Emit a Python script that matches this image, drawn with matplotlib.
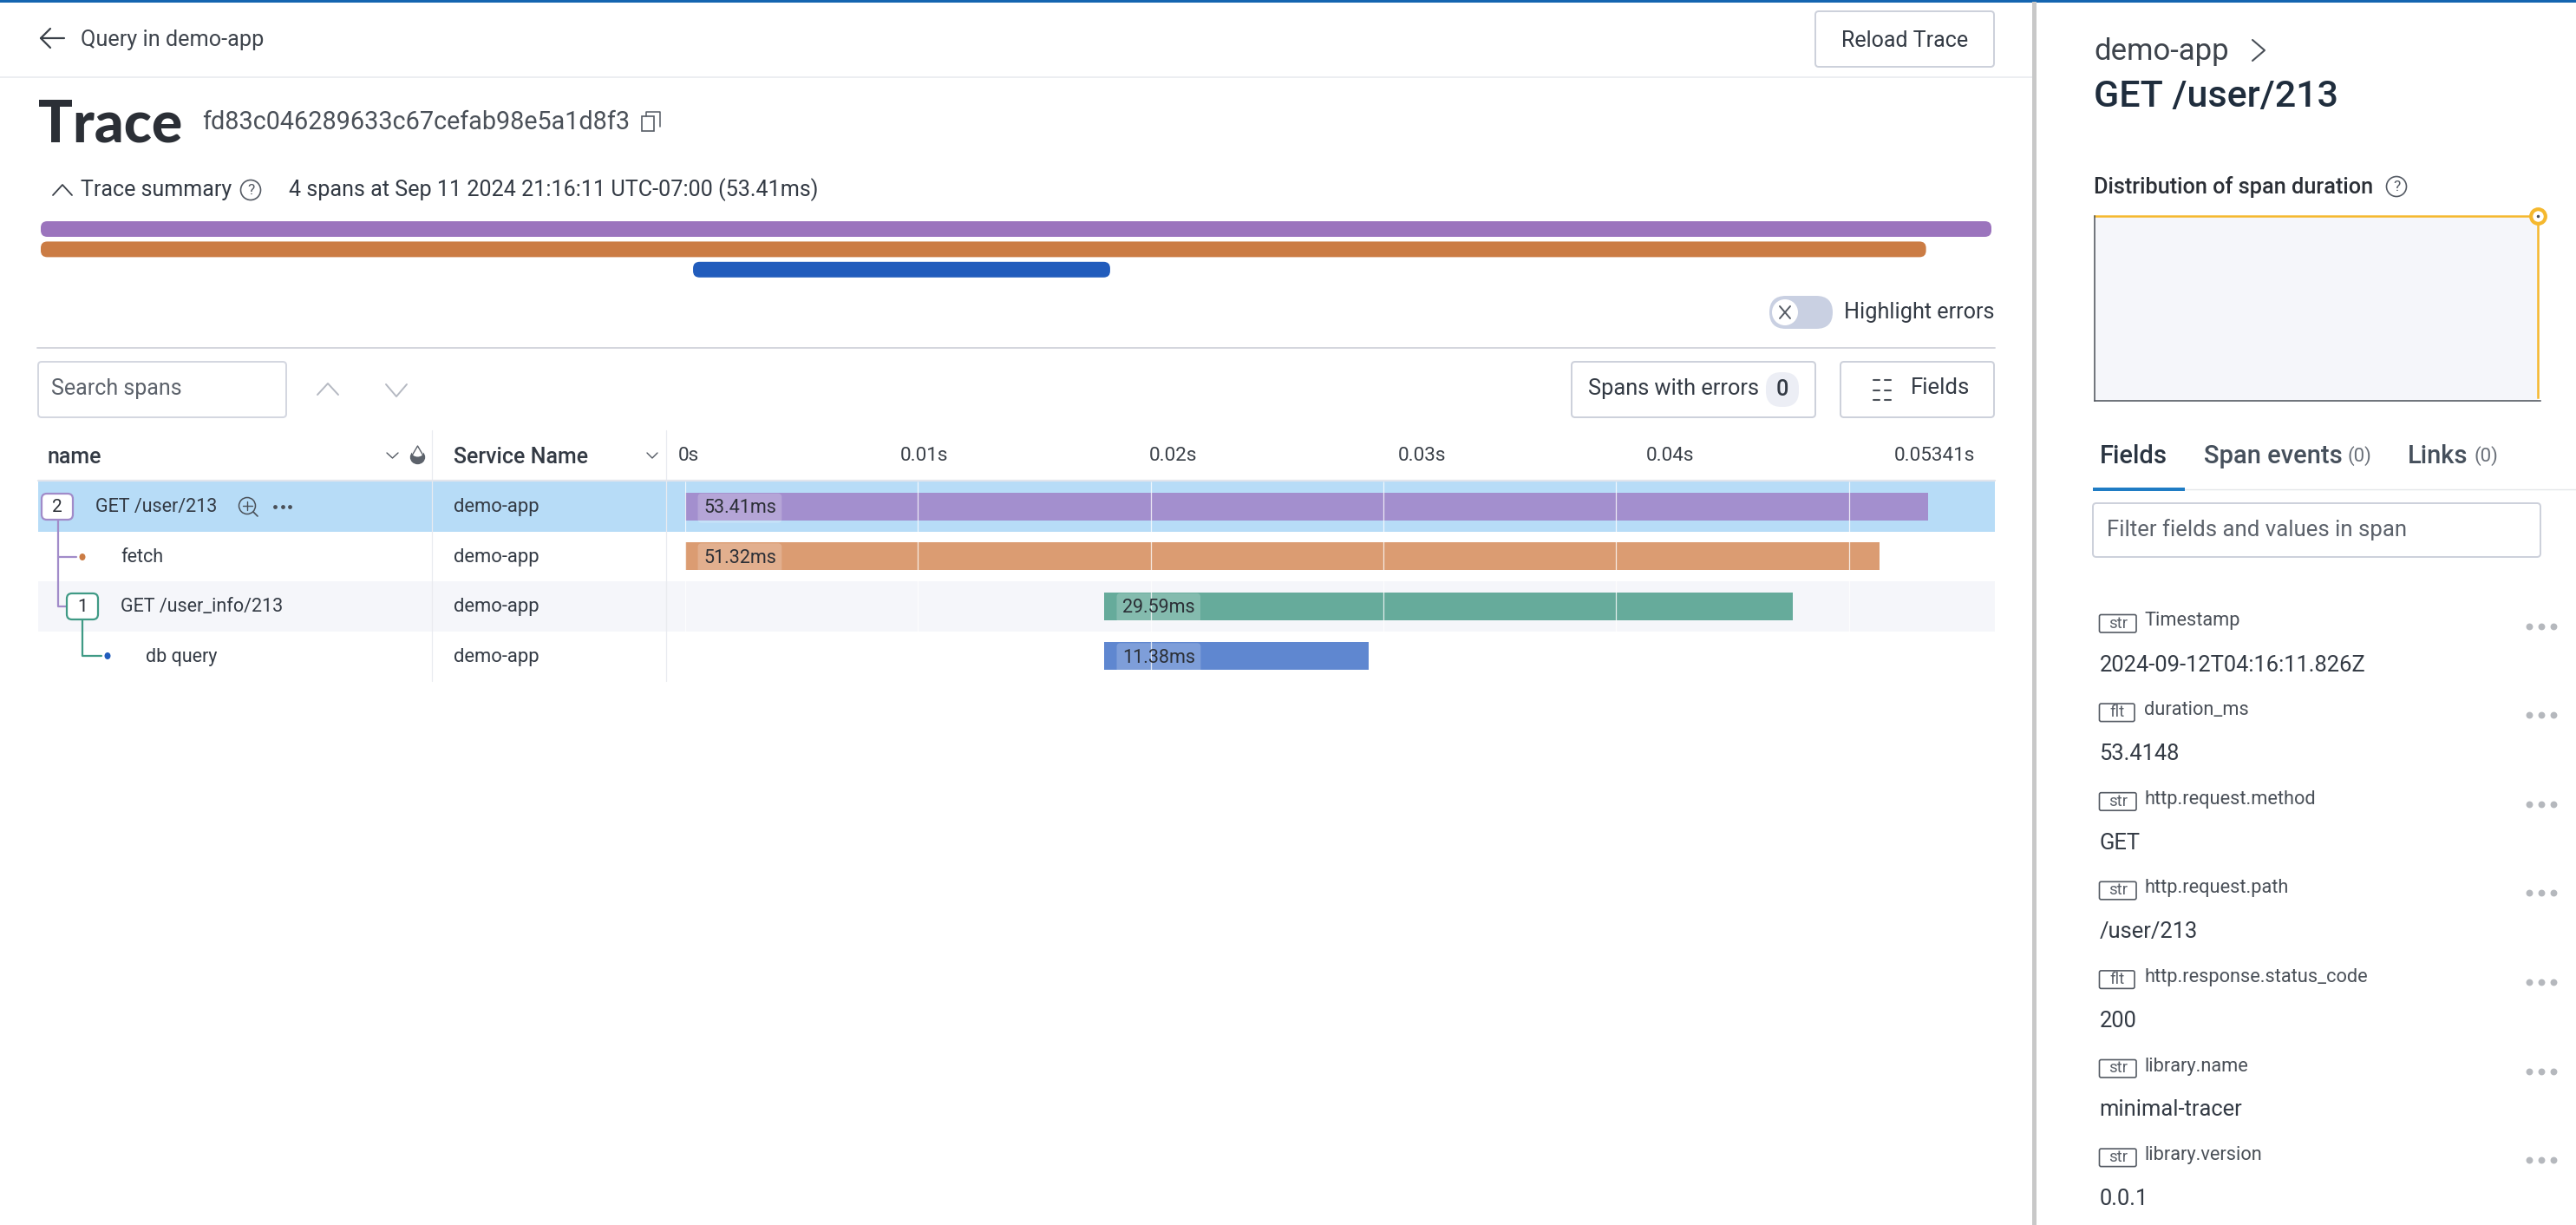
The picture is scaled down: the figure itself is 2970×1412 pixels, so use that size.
import matplotlib
matplotlib.use('Agg')
import matplotlib.pyplot as plt
from matplotlib.patches import FancyBboxPatch, Circle, Ellipse, Rectangle

plt.rcParams['font.family'] = ['Roboto', 'DejaVu Sans']

W, H = 2970, 1412

# span data, ms
span_names = ['GET /user/213', 'fetch', 'GET /user_info/213', 'db query']
span_start = [0.0, 0.0, 18.0, 18.0]
span_dur = [53.41, 51.32, 29.59, 11.38]
span_labels = ['53.41ms', '51.32ms', '29.59ms', '11.38ms']
span_colors = ['#a38fce', '#db9c72', '#66ab9b', '#5f87d0']
span_service = ['demo-app', 'demo-app', 'demo-app', 'demo-app']
grid_ms = [0, 10, 20, 30, 40, 50]
tick_labels = ['0s', '0.01s', '0.02s', '0.03s', '0.04s', '0.05341s']

# summary bars at the top (the green one is hidden, same row as blue)
summary_start = [0.0, 0.0, 17.86]
summary_dur = [53.41, 51.62, 11.42]
summary_colors = ['#9b74bd', '#cb7c44', '#215cbc']

# distribution chart
dist_x = [0, 1, 1]
dist_y = [1, 1, 0]

# side panel fields
field_types = ['str', 'flt', 'str', 'str', 'flt', 'str', 'str']
field_keys = ['Timestamp', 'duration_ms', 'http.request.method', 'http.request.path',
              'http.response.status_code', 'library.name', 'library.version']
field_values = ['2024-09-12T04:16:11.826Z', '53.4148', 'GET', '/user/213', '200',
                'minimal-tracer', '0.0.1']


def px_axes(x0, y0, x1, y1, **kw):
    # axes placed by pixel box, y counted from the top
    return fig.add_axes([x0 / W, 1 - y1 / H, (x1 - x0) / W, (y1 - y0) / H], **kw)


def box(x0, y0, x1, y1, r=4, fc='white', ec='none', lw=1.4, z=2):
    p = FancyBboxPatch((x0, y0), x1 - x0, y1 - y0, boxstyle='round,pad=0,rounding_size=%s' % r,
                       fc=fc, ec=ec, lw=lw, zorder=z)
    ui.add_patch(p)


def line(xs, ys, c='#3a4048', lw=1.5, z=3):
    ui.plot(xs, ys, color=c, lw=lw, zorder=z, solid_capstyle='round', solid_joinstyle='round')


def txt(x, y, s, size=18.2, c='#333a44', ha='left', weight='normal', z=5, **kw):
    # the +1.5 sits the roboto x-height where the browser puts it
    ui.text(x, y + 1.5, s, fontsize=size, color=c, ha=ha, va='center', fontweight=weight, zorder=z, **kw)


def help_icon(x, y, r=11.5):
    ui.add_patch(Circle((x, y), r, fc='none', ec='#555b64', lw=1.2, zorder=3))
    txt(x, y - 1.5, '?', size=12.5, c='#555b64', ha='center')


fig = plt.figure(figsize=(W / 100, H / 100), dpi=100, facecolor='white')
ui = fig.add_axes([0, 0, 1, 1], zorder=0)
ui.set_xlim(0, W)
ui.set_ylim(H, 0)
ui.axis('off')

# frame
ui.add_patch(Rectangle((0, 0), W, 2.5, fc='#1565b0', ec='none', zorder=6))
ui.add_patch(Rectangle((2343, 2), 5, H, fc='#c8c8c8', ec='none', zorder=6))
line([0, 2343], [89, 89], c='#eceef1', lw=1.4)

# top row
line([74, 47, 58], [44, 44, 33], lw=1.6)
line([47, 58], [44, 55], lw=1.6)
txt(93, 45, 'Query in demo-app', c='#3e444c')
box(2093, 13, 2299, 77, ec='#ccd0da')
txt(2196, 45, 'Reload Trace', ha='center', size=18)

# heading
txt(44, 142.5, 'Trace', size=47.6, c='#2b2f36', weight=900, family=['Lato', 'DejaVu Sans'])
txt(233, 139.5, 'fd83c046289633c67cefab98e5a1d8f3', c='#4a5058', size=20.7)
ui.add_patch(Rectangle((740, 134), 14, 17, fc='white', ec='#555b64', lw=1.2, zorder=3))
line([745, 745, 761, 761], [134, 129, 129, 146], c='#555b64', lw=1.1)

# summary line
line([61, 72, 83], [225, 213, 225], lw=1.3)
txt(93, 217.5, 'Trace summary', size=18)
help_icon(289, 219)
txt(333, 217.5, '4 spans at Sep 11 2024 21:16:11 UTC-07:00 (53.41ms)', size=18.1)

ax_sum = px_axes(47, 255, 2296, 320)
ax_sum.set_xlim(0, 53.41)
ax_sum.set_ylim(3, 0)
ax_sum.axis('off')
for i in range(len(summary_dur)):
    ax_sum.add_patch(FancyBboxPatch((summary_start[i], i + (0.0 if i == 0 else 0.08 * i)), summary_dur[i], 0.83,
                                    boxstyle='round,pad=0,rounding_size=0.18', mutation_aspect=1.9,
                                    fc=summary_colors[i], ec='none', clip_on=False))

# toggle
box(2040, 341, 2113, 379, r=19, fc='#c9d0e2', z=2)
ui.add_patch(Circle((2058, 360), 15, fc='white', ec='none', zorder=3))
line([2052, 2064], [353, 367], c='#555b64', lw=1.4, z=4)
line([2052, 2064], [367, 353], c='#555b64', lw=1.4, z=4)
txt(2126, 359, 'Highlight errors')
line([43, 2300], [401, 401], c='#d3d5dd', lw=1.4)

# search row
box(44, 417, 330, 481, ec='#d3d6e0')
txt(59, 447, 'Search spans', c='#5c626b', size=18)
line([366, 378, 390], [455, 442, 455], c='#b5b9c2', lw=1.4)
line([445, 457, 469], [443, 457, 443], c='#b5b9c2', lw=1.4)
box(1812, 417, 2093, 481, ec='#ccd0da')
txt(1831, 447, 'Spans with errors', size=18.3)
box(2036, 429, 2074, 469, r=18, fc='#eceef5')
txt(2055, 448, '0', ha='center', weight='medium')
box(2122, 417, 2299, 481, ec='#ccd0da')
for yy in [438, 449.5, 461]:
    line([2160, 2167], [yy, yy], c='#4a5058', lw=1.5)
    line([2173, 2180], [yy, yy], c='#4a5058', lw=1.5)
txt(2203, 446, 'Fields', size=18.5)

# table header
txt(55, 525, 'name', weight='medium', size=18)
line([446, 452.5, 459], [522, 528, 522], c='#555b64', lw=1)
ui.add_patch(Ellipse((481.5, 527), 16, 15, fc='#5c626b', ec='#5c626b', lw=1, zorder=3))
ui.add_patch(Ellipse((481.5, 522), 13, 9, fc='white', ec='none', zorder=3))
line([474.5, 481.5, 488.5], [526, 514, 526], c='#5c626b', lw=1)
txt(523, 525, 'Service Name', weight='medium', size=18)
line([746, 752, 758], [522, 528, 522], c='#555b64', lw=1)
for s, x in zip(tick_labels, [782, 1038, 1325, 1612, 1898, 2184]):
    txt(x, 524, s, size=16.2, c='#3a4048')
line([44, 2300], [554, 554], c='#e2e5ec', lw=1.6)

# rows
ui.add_patch(Rectangle((44, 555), 2256, 58, fc='#b7dcf7', ec='none', zorder=1))
ui.add_patch(Rectangle((44, 670), 2256, 58, fc='#f5f6fa', ec='none', zorder=1))
for x in [498, 768]:
    line([x, x], [496, 785], c='#e9ebf0', lw=0.9, z=1.5)

row_y = [583, 641, 698, 756]
row_x = [110, 139, 139, 168]
for i in range(4):
    txt(row_x[i], row_y[i], span_names[i], size=15.5)
    txt(523, row_y[i], span_service[i], size=15.8)

# tree connectors
line([66.5, 66.5, 77], [599, 699, 699], c='#a18bc9', lw=1.6)
line([66.5, 88], [642, 642], c='#a18bc9', lw=1.6)
line([95, 95, 117], [714, 756, 756], c='#3f9a85', lw=1.6)
ui.add_patch(Ellipse((95, 642), 7, 8, fc='#cb7c44', ec='none', zorder=4))
ui.add_patch(Ellipse((124, 756), 7, 8, fc='#215cbc', ec='none', zorder=4))
box(48, 569, 84, 599, r=6, ec='#a18bc9', lw=1.6, z=4)
txt(66, 583, '2', size=15, ha='center', c='#2b2f36')
box(77, 684, 113, 714, r=6, ec='#3f9a85', lw=1.6, z=4)
txt(95, 698, '1', size=15, ha='center', c='#2b2f36')

# row icons
ui.add_patch(Circle((285, 583), 9.5, fc='none', ec='#4a5058', lw=1.1, zorder=4))
line([279.5, 290.5], [583, 583], c='#4a5058', lw=1)
line([285, 285], [578, 588], c='#4a5058', lw=1)
line([292, 297], [590, 595], c='#4a5058', lw=1.2)
ui.scatter([317, 325.5, 334], [584, 584, 584], s=12, color='#4a5058', zorder=4, linewidths=0)

# waterfall bars
ax = px_axes(790, 555, 2300, 785, zorder=2)
ax.patch.set_alpha(0)
ax.set_xlim(0, (2300 - 790) / 26.83)
ax.set_ylim(4, 0)
ax.axis('off')
ys = [i + 0.5 for i in range(4)]
ax.barh(ys, span_dur, left=span_start, height=0.56, color=span_colors, zorder=2)
ax.vlines(grid_ms, 0, 3.8, color='white', lw=0.9, alpha=0.8, zorder=3)
for i in range(4):
    ax.annotate(span_labels[i], (span_start[i], ys[i]), xytext=(21, -2), textcoords='offset pixels',
                fontsize=15.5, color='#2b2f36', va='center', zorder=4,
                bbox=dict(boxstyle='round,pad=0.3,rounding_size=0.2', fc=(1, 1, 1, 0.2), ec='none'))

# side panel head
txt(2414, 58, 'demo-app', size=25, c='#3e444c')
line([2597, 2611, 2597], [46, 58, 70], c='#4a5058', lw=1.5)
txt(2414, 110, 'GET /user/213', size=31, c='#1f2d3d', weight='medium')
txt(2414, 214, 'Distribution of span duration', size=18.2, c='#2b2f36', weight='medium')
help_icon(2763, 215)

# distribution chart
ax_d = px_axes(2414.5, 249, 2929, 462, zorder=2)
ax_d.patch.set_alpha(0)
ax_d.set_xlim(0, (2929 - 2414.5) / (2926 - 2414.5))
ax_d.set_ylim(-4 / 209, 1)
ax_d.set_xticks([])
ax_d.set_yticks([])
for sp in ['top', 'right']:
    ax_d.spines[sp].set_visible(False)
for sp in ['left', 'bottom']:
    ax_d.spines[sp].set_color('#4a5058')
    ax_d.spines[sp].set_linewidth(1.1)
ax_d.fill_between(dist_x, dist_y, -4 / 209, color='#f5f6fa', lw=0)
ax_d.plot(dist_x, dist_y, color='#f5b82e', lw=1.8, clip_on=False)
ax_d.plot([dist_x[1]], [dist_y[1]], marker='o', ms=12, mfc='white', mec='#f5b82e', mew=3, clip_on=False, zorder=5)
ax_d.plot([dist_x[1]], [dist_y[1]], marker='.', ms=3, color='#4a5058', clip_on=False, zorder=6)

# tabs
txt(2421, 524.5, 'Fields', size=21, c='#2b3542', weight='medium')
txt(2541, 524.5, 'Span events', size=21, c='#46505c', weight='medium')
txt(2706, 524.5, '(0)', size=16, c='#6a7079')
txt(2776, 524.5, 'Links', size=21, c='#46505c', weight='medium')
txt(2852, 524.5, '(0)', size=16, c='#6a7079')
line([2413, W], [564, 564], c='#e4e6ea', lw=1)
ui.add_patch(Rectangle((2413, 562), 106, 4, fc='#1f7cc4', ec='none', zorder=4))
box(2413, 580, 2929, 642, ec='#ccd0da')
txt(2429, 609.5, 'Filter fields and values in span', c='#5c626b', size=18.5)

# fields list
for i in range(len(field_keys)):
    y0 = 714.5 + i * 102.6
    right = 2463 if field_types[i] == 'str' else 2461
    box(2420.5, y0 - 6, right, y0 + 14.5, r=2, ec='#555b64', lw=1.2)
    txt((2420.5 + right) / 2, y0 + 2.5, field_types[i], size=13.5, c='#5c626b', ha='center')
    txt(2472, y0, field_keys[i], size=15.7, c='#4a5058')
    txt(2420.5, y0 + 50.5, field_values[i], size=18.4, c='#333a44')
    ui.scatter([2915.5, 2929.5, 2944], [y0 + 7] * 3, s=32, color='#b5b8bd', zorder=4, linewidths=0)

fig.savefig('out.png', dpi=100)
